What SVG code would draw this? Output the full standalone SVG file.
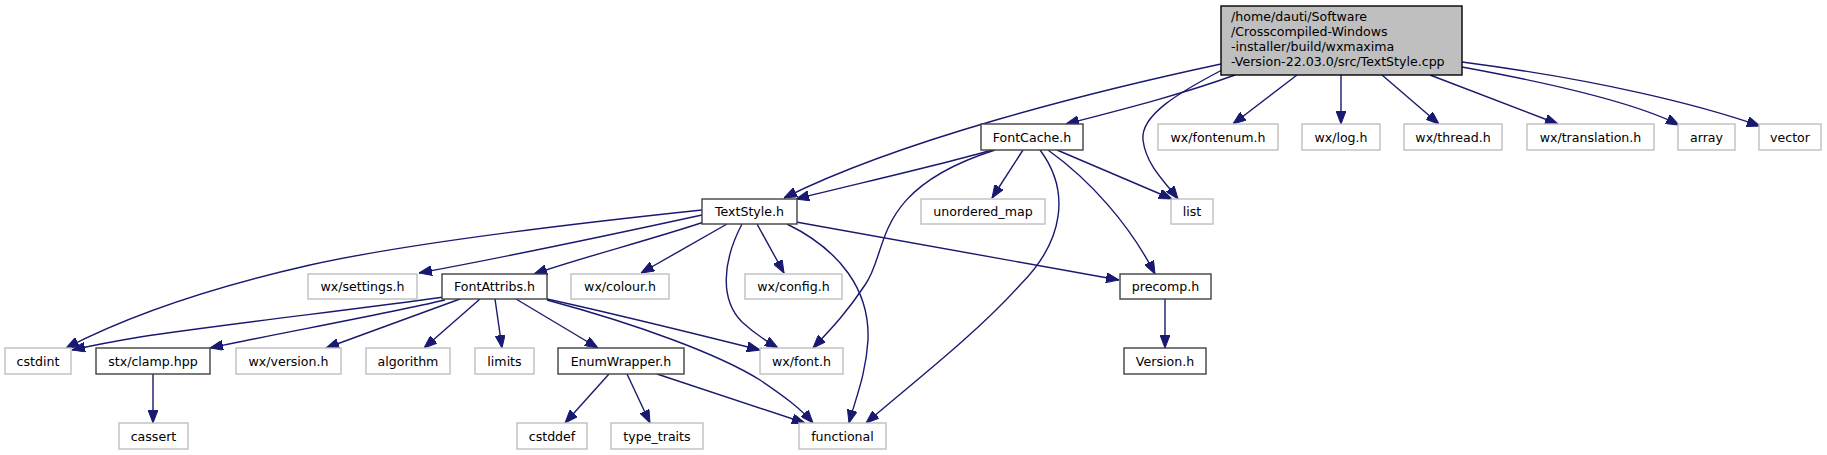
<svg xmlns="http://www.w3.org/2000/svg" width="1827" height="455" viewBox="0 0 1827 455">
<style>
text{font-family:"DejaVu Sans","Liberation Sans",sans-serif;font-size:12.6px;fill:#000}
.n text{text-anchor:middle}
.d rect{fill:#fff;stroke:#404040;stroke-width:1.4}
.x rect{fill:#fff;stroke:#bfbfbf;stroke-width:1.4}
.e path{fill:none;stroke:#191970;stroke-width:1.4;marker-end:url(#arr)}
</style>
<defs>
<marker id="arr" viewBox="0 0 13 10" refX="13" refY="5" markerWidth="13" markerHeight="10" markerUnits="userSpaceOnUse" orient="auto">
<path d="M0,0 L13,5 L0,10 z" fill="#191970" stroke="#191970" stroke-width="1"/>
</marker>
</defs>
<rect width="1827" height="455" fill="#fff"/>
<g id="connectors" class="e">
<path d="M1221,64 C1090,92 900,140 784,198"/>
<path d="M1235,75 C1180,95 1120,110 1066,124"/>
<path d="M1222,70 C1180,92 1140,115 1143,140 C1146,165 1165,182 1178,199"/>
<path d="M1297,75 L1233,124"/>
<path d="M1341,75 L1341,124"/>
<path d="M1382,75 L1439,124"/>
<path d="M1430,75 L1558,124"/>
<path d="M1462,67 C1560,85 1640,105 1679,125"/>
<path d="M1462,62 C1600,80 1700,105 1760,126"/>
<path d="M992,150 C940,165 860,183 796,199"/>
<path d="M1023,150 L992,198"/>
<path d="M1057,150 L1172,199"/>
<path d="M995,150 C870,190 890,250 865,285 C845,315 830,330 813,348"/>
<path d="M1040,150 C1070,190 1065,240 1020,285 C975,335 910,385 866,423"/>
<path d="M1048,150 C1090,180 1130,225 1155,274"/>
<path d="M702,210 C560,225 400,245 310,265 C200,290 120,320 66,348"/>
<path d="M702,215 C610,235 500,258 419,273"/>
<path d="M704,222 C650,240 580,258 534,274"/>
<path d="M727,224 L641,273"/>
<path d="M757,224 L784,273"/>
<path d="M742,224 C722,262 720,300 742,322 C755,334 766,341 778,348"/>
<path d="M787,224 C840,250 870,290 868,340 C866,375 855,400 849,423"/>
<path d="M796,222 L1119,280"/>
<path d="M444,297 C350,310 220,325 140,337 C110,342 90,346 72,350"/>
<path d="M445,300 C380,315 270,335 210,348"/>
<path d="M460,299 L326,348"/>
<path d="M480,299 L424,348"/>
<path d="M495,299 L502,348"/>
<path d="M516,299 L598,348"/>
<path d="M547,299 C620,315 700,335 760,350"/>
<path d="M547,300 C640,325 720,355 760,380 C785,397 800,408 813,423"/>
<path d="M153,374 L153,423"/>
<path d="M609,374 L565,423"/>
<path d="M627,374 L650,423"/>
<path d="M657,374 L805,423"/>
<path d="M1165,299 L1165,348"/>
</g>
<g id="root">
<rect x="1221" y="6" width="241" height="69" fill="#bfbfbf" stroke="#000" stroke-width="1.4"/>
<text x="1231" y="20.5">/home/dauti/Software</text>
<text x="1231" y="35.7">/Crosscompiled-Windows</text>
<text x="1231" y="50.9">-installer/build/wxmaxima</text>
<text x="1231" y="66.1">-Version-22.03.0/src/TextStyle.cpp</text>
</g>
<g id="n_FontCache" class="n d"><rect x="981" y="124" width="102" height="26"/><text x="1032" y="141.7">FontCache.h</text></g>
<g id="n_fontenum" class="n x"><rect x="1158" y="124" width="120" height="26"/><text x="1218" y="141.7">wx/fontenum.h</text></g>
<g id="n_log" class="n x"><rect x="1302" y="124" width="78" height="26"/><text x="1341" y="141.7">wx/log.h</text></g>
<g id="n_thread" class="n x"><rect x="1404" y="124" width="98" height="26"/><text x="1453" y="141.7">wx/thread.h</text></g>
<g id="n_translation" class="n x"><rect x="1527" y="124" width="127" height="26"/><text x="1590.5" y="141.7">wx/translation.h</text></g>
<g id="n_array" class="n x"><rect x="1678" y="124" width="57" height="26"/><text x="1706.5" y="141.7">array</text></g>
<g id="n_vector" class="n x"><rect x="1759" y="124" width="62" height="26"/><text x="1790" y="141.7">vector</text></g>
<g id="n_TextStyle" class="n d"><rect x="702" y="199" width="95" height="25"/><text x="749.5" y="216.2">TextStyle.h</text></g>
<g id="n_unordered_map" class="n x"><rect x="921" y="199" width="124" height="25"/><text x="983" y="216.2">unordered_map</text></g>
<g id="n_list" class="n x"><rect x="1171" y="199" width="42" height="25"/><text x="1192" y="216.2">list</text></g>
<g id="n_settings" class="n x"><rect x="308" y="274" width="109" height="25"/><text x="362.5" y="291.2">wx/settings.h</text></g>
<g id="n_FontAttribs" class="n d"><rect x="442" y="274" width="105" height="25"/><text x="494.5" y="291.2">FontAttribs.h</text></g>
<g id="n_colour" class="n x"><rect x="571" y="274" width="98" height="25"/><text x="620" y="291.2">wx/colour.h</text></g>
<g id="n_config" class="n x"><rect x="745" y="274" width="97" height="25"/><text x="793.5" y="291.2">wx/config.h</text></g>
<g id="n_precomp" class="n d"><rect x="1120" y="274" width="91" height="25"/><text x="1165.5" y="291.2">precomp.h</text></g>
<g id="n_cstdint" class="n x"><rect x="5" y="348" width="66" height="26"/><text x="38" y="365.7">cstdint</text></g>
<g id="n_clamp" class="n d"><rect x="96" y="348" width="114" height="26"/><text x="153" y="365.7">stx/clamp.hpp</text></g>
<g id="n_version" class="n x"><rect x="236" y="348" width="105" height="26"/><text x="288.5" y="365.7">wx/version.h</text></g>
<g id="n_algorithm" class="n x"><rect x="366" y="348" width="84" height="26"/><text x="408" y="365.7">algorithm</text></g>
<g id="n_limits" class="n x"><rect x="475" y="348" width="59" height="26"/><text x="504.5" y="365.7">limits</text></g>
<g id="n_EnumWrapper" class="n d"><rect x="558" y="348" width="126" height="26"/><text x="621" y="365.7">EnumWrapper.h</text></g>
<g id="n_font" class="n x"><rect x="760" y="348" width="83" height="26"/><text x="801.5" y="365.7">wx/font.h</text></g>
<g id="n_Version" class="n d"><rect x="1124" y="348" width="82" height="26"/><text x="1165" y="365.7">Version.h</text></g>
<g id="n_cassert" class="n x"><rect x="119" y="423" width="69" height="26"/><text x="153.5" y="440.7">cassert</text></g>
<g id="n_cstddef" class="n x"><rect x="517" y="423" width="70" height="26"/><text x="552" y="440.7">cstddef</text></g>
<g id="n_type_traits" class="n x"><rect x="611" y="423" width="92" height="26"/><text x="657" y="440.7">type_traits</text></g>
<g id="n_functional" class="n x"><rect x="799" y="423" width="87" height="26"/><text x="842.5" y="440.7">functional</text></g>
</svg>
